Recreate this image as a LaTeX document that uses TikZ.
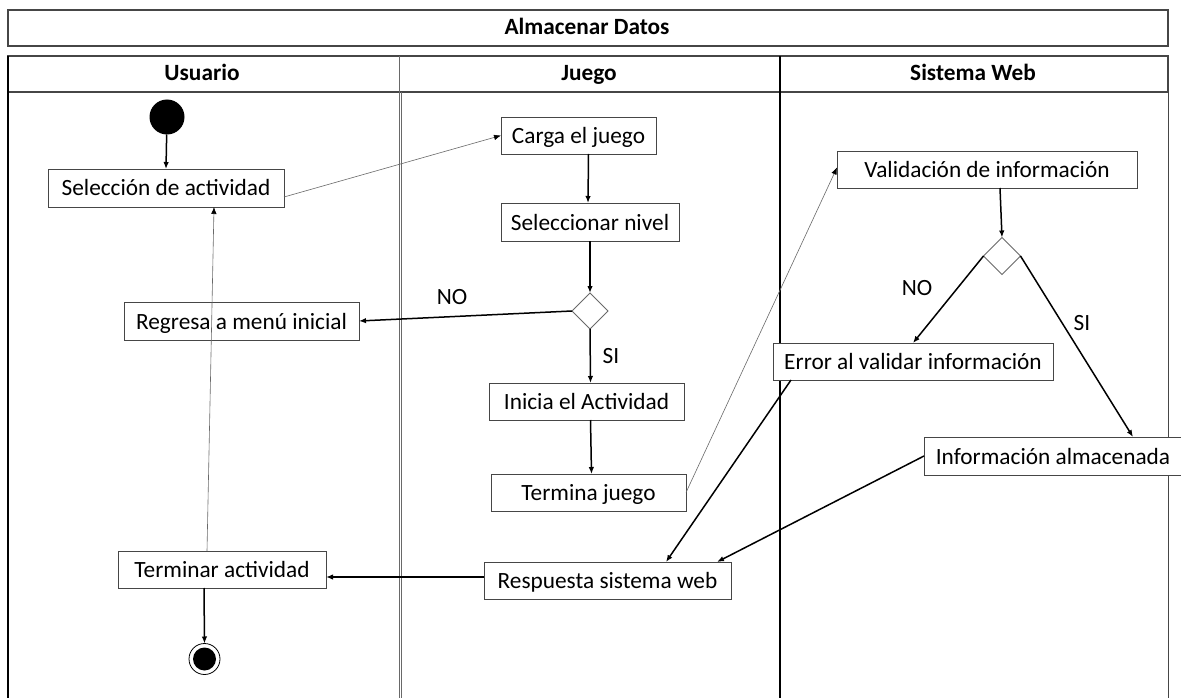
\documentclass[tikz,border=0pt]{standalone}
\usepackage{fontspec}
\setmainfont{Carlito}
\usetikzlibrary{shapes.geometric,arrows.meta,calc}
\definecolor{boxc}{RGB}{70,70,70}
\definecolor{thinc}{RGB}{105,105,105}
\tikzset{
  every node/.style={inner sep=0pt, outer sep=0pt},
  txt/.style={font=\fontsize{23.3}{27}\selectfont, text height=21pt, text depth=5pt},
  box/.style={txt, draw=boxc, fill=white, line width=0.9pt, minimum height=37},
  head/.style={font=\bfseries\fontsize{23.3}{27}\selectfont, anchor=base},
  decision/.style={diamond, draw=thinc, fill=white, line width=0.8pt,
                   minimum size=#1, aspect=1},
  flow/.style={draw=black, line width=1.5pt, -{Latex[length=7pt,width=5.5pt]}},
  thin/.style={draw=thinc, line width=0.6pt, -{Latex[length=7pt,width=5.5pt,color=black]}},
}
\begin{document}
\begin{tikzpicture}[x=1pt,y=-1pt]
\clip (0,0) rectangle (1181,698);
\fill[white] (0,0) rectangle (1181,698);

% title and lane headers
\draw[boxc, line width=1.2pt] (8,10) rectangle (1168,46);
\node[head] (title) at (587,35) {Almacenar Datos};
\draw[boxc, line width=1.2pt] (8,56) rectangle (1168,92);
\node[head] (hu) at (202,81) {Usuario};
\node[head] (hj) at (589,81) {Juego};
\node[head] (hs) at (973,81) {Sistema Web};

% lane borders
\draw[black, line width=1.2pt] (8,56) -- (8,698);
\draw[thinc, line width=0.9pt] (399,56) -- (399,698);
\draw[thinc, line width=0.9pt] (401.8,92) -- (401.8,698);
\draw[black, line width=1.6pt] (780,56) -- (780,698);
\draw[boxc, line width=1pt] (1168,56) -- (1168,698);

% start and end states
\node[circle, fill=black, minimum size=35] (start) at (167,117) {};
\node[circle, draw=black, fill=white, line width=0.8pt, minimum size=31] (end) at (204.5,659) {};
\node[circle, fill=black, minimum size=23] (endin) at (end) {};

% activities
\node[box, minimum width=236, minimum height=38] (sel) at (166,188) {Selección de actividad};
\node[box, minimum width=155] (carga) at (578.5,135.5) {Carga el juego};
\node[box, minimum width=178, minimum height=38] (nivel) at (590,222) {Seleccionar nivel};
\node[decision=36] (d1) at (590,311) {};
\node[box, minimum width=235, minimum height=38] (regresa) at (241.5,321) {Regresa a menú inicial};
\node[box, minimum width=195] (inicia) at (586.5,401.5) {Inicia el Actividad};
\node[box, minimum width=195] (termina) at (588.5,492.5) {Termina juego};
\node[box, minimum width=300] (valid) at (987,169.5) {Validación de información};
\node[decision=37] (d2) at (1002,256) {};
\node[box, minimum width=280] (error) at (913,361.5) {Error al validar información};
\node[box, anchor=west, minimum height=38, minimum width=258] (info) at (924,456) {Información almacenada};
\node[box, minimum width=247] (resp) at (607.5,580.5) {Respuesta sistema web};
\node[box, minimum width=208] (term) at (222,569.5) {Terminar actividad};

% guard labels
\node[txt] (no1) at (452,296) {NO};
\node[txt] (si1) at (611,355) {SI};
\node[txt] (no2) at (917,287) {NO};
\node[txt] (si2) at (1082,322) {SI};

% control flow
\draw[flow] (start) -- (sel.north);
\draw[thin] ([yshift=-9pt]sel.east) -- (carga.west);
\draw[flow] ([xshift=10pt]carga.south) -- ([xshift=-2pt]nivel.north);
\draw[flow] (nivel.south) -- (d1.north);
\draw[flow] (d1.west) -- (regresa.east);
\draw[flow] (d1.south) -- ([xshift=4pt]inicia.north);
\draw[flow] ([xshift=4pt]inicia.south) -- ([xshift=3pt]termina.north);
\draw[thin] (termina.east) -- ([yshift=2pt]valid.west);
\draw[flow] ([xshift=13pt]valid.south) -- (d2.north);
\draw[flow] (d2.west) -- (error.north);
\draw[flow] (d2.east) -- ($(info.north west)+(209,0)$);
\draw[flow] ($(error.south west)+(18,0)$) -- ($(resp.north west)+(182,0)$);
\draw[flow] (info.west) -- ($(resp.north east)+(-14,0)$);
\draw[flow] ([yshift=3.5pt]resp.west) -- ([yshift=-7.5pt]term.east);
\draw[thin] ([xshift=-15pt]term.north) -- ([xshift=48pt]sel.south);
\draw[flow] ([xshift=-18pt]term.south) -- (end.north);
\end{tikzpicture}
\end{document}
